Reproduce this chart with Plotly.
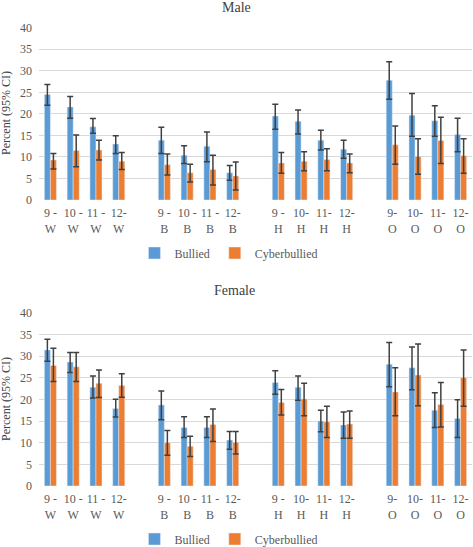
import plotly.graph_objects as go

tick_labels = ["9 -<br>W", "10 -<br>W", "11 -<br>W", "12-<br>W",
               "9 -<br>B", "10 -<br>B", "11 -<br>B", "12-<br>B",
               "9 -<br>H", "10-<br>H", "11-<br>H", "12-<br>H",
               "9-<br>O", "10-<br>O", "11-<br>O", "12-<br>O"]

male_bullied = [24.5, 21.6, 17.0, 13.0, 13.9, 10.4, 12.5, 6.3, 19.5, 18.3, 13.9, 11.8, 27.8, 19.7, 18.4, 15.2]
male_bullied_hi = [26.8, 24.0, 18.9, 14.9, 16.9, 12.6, 15.8, 8.0, 22.2, 20.9, 16.2, 13.9, 32.1, 24.7, 21.9, 19.0]
male_bullied_lo = [22.0, 19.0, 15.5, 10.8, 10.8, 8.5, 8.9, 4.6, 16.4, 15.3, 11.6, 9.7, 23.4, 14.8, 14.8, 11.2]
male_cyber = [9.3, 11.5, 11.6, 9.0, 8.2, 6.3, 7.1, 5.6, 8.6, 9.0, 9.4, 8.6, 12.8, 10.1, 13.8, 10.3]
male_cyber_hi = [10.8, 15.1, 13.9, 11.0, 10.7, 8.3, 10.4, 8.8, 11.0, 11.2, 11.9, 10.7, 17.2, 14.2, 19.2, 14.2]
male_cyber_lo = [7.2, 7.7, 9.3, 7.1, 5.8, 4.2, 3.5, 2.3, 6.2, 6.8, 6.8, 6.3, 8.3, 6.0, 8.5, 6.2]

female_bullied = [31.4, 28.6, 22.8, 17.9, 18.7, 13.5, 13.5, 10.6, 23.9, 22.8, 15.0, 14.1, 28.1, 27.3, 17.5, 15.6]
female_bullied_hi = [33.9, 30.8, 25.4, 20.0, 21.9, 16.0, 16.0, 12.6, 26.6, 25.4, 17.5, 17.1, 33.1, 32.1, 21.5, 19.9]
female_bullied_lo = [28.8, 26.2, 20.3, 15.9, 15.3, 11.2, 11.2, 8.5, 21.2, 19.8, 12.5, 11.0, 22.9, 22.2, 13.5, 11.2]
female_cyber = [27.8, 27.5, 23.7, 23.2, 10.0, 9.2, 14.2, 10.1, 19.3, 20.1, 14.8, 14.3, 21.7, 25.6, 18.8, 25.0]
female_cyber_hi = [31.8, 30.8, 26.8, 25.9, 12.8, 11.5, 17.8, 12.6, 22.3, 23.7, 18.4, 17.3, 27.3, 32.8, 23.9, 31.4]
female_cyber_lo = [24.1, 24.1, 20.4, 20.5, 7.1, 6.8, 10.3, 7.4, 16.4, 16.2, 11.2, 11.0, 16.2, 18.5, 13.6, 18.4]

FONT = "Liberation Serif, Times New Roman, serif"
BLUE = "#5B9BD5"
ORANGE = "#ED7D31"
ERR = "#404040"
GRID = "#D9D9D9"
TXT = "#595959"

# category slots with one empty slot between the four race groups
xpos = [i + i // 4 for i in range(len(tick_labels))]

fig = go.Figure()


def add(vals, hi, lo, name, color, xa, ya, legend):
    fig.add_trace(go.Bar(
        x=xpos, y=vals, name=name, marker_color=color, xaxis=xa, yaxis=ya,
        legend=legend,
        error_y=dict(type="data", symmetric=False,
                     array=[h - v for h, v in zip(hi, vals)],
                     arrayminus=[v - l for v, l in zip(vals, lo)],
                     color=ERR, thickness=1.5, width=3),
    ))


add(male_bullied, male_bullied_hi, male_bullied_lo, "Bullied", BLUE, "x", "y", "legend")
add(male_cyber, male_cyber_hi, male_cyber_lo, "Cyberbullied", ORANGE, "x", "y", "legend")
add(female_bullied, female_bullied_hi, female_bullied_lo, "Bullied", BLUE, "x2", "y2", "legend2")
add(female_cyber, female_cyber_hi, female_cyber_lo, "Cyberbullied", ORANGE, "x2", "y2", "legend2")

H, W = 547, 473
xdom = [39 / W, 472 / W]
ydom1 = [1 - 200 / H, 1 - 27.7 / H]
ydom2 = [1 - 486 / H, 1 - 312.7 / H]

xcommon = dict(range=[-0.5, 18.5], tickmode="array", tickvals=xpos, ticktext=tick_labels,
               showgrid=False, zeroline=False, showline=False, ticks="", automargin=False,
               ticklabelstandoff=4,
               tickfont=dict(family=FONT, size=12, color=TXT), domain=xdom, fixedrange=True)
ycommon = dict(range=[0, 40], dtick=5, showgrid=True, gridcolor=GRID, gridwidth=1,
               zeroline=False, showline=False, ticks="", ticklabelstandoff=6, automargin=False,
               tickfont=dict(family=FONT, size=12, color=TXT), fixedrange=True)

legcommon = dict(orientation="h", x=0.483, xanchor="center", yanchor="middle",
                 font=dict(family=FONT, size=12, color=TXT), itemwidth=30)

fig.update_layout(
    width=W, height=H,
    margin=dict(l=0, r=0, t=0, b=0, autoexpand=False),
    paper_bgcolor="white", plot_bgcolor="white",
    barmode="group", bargap=0.47, bargroupgap=0,
    font=dict(family=FONT, color=TXT),
    xaxis=dict(anchor="y", **xcommon),
    yaxis=dict(anchor="x", domain=ydom1, **ycommon),
    xaxis2=dict(anchor="y2", **xcommon),
    yaxis2=dict(anchor="x2", domain=ydom2, **ycommon),
    legend=dict(y=1 - 253 / H, **legcommon),
    legend2=dict(y=1 - 539 / H, **legcommon),
    annotations=[
        dict(text="Male", x=236 / W, y=1 - 8 / H, xref="paper", yref="paper",
             showarrow=False, font=dict(family=FONT, size=14, color="#404040"),
             xanchor="center", yanchor="middle"),
        dict(text="Female", x=234 / W, y=1 - 291 / H, xref="paper", yref="paper",
             showarrow=False, font=dict(family=FONT, size=14, color="#404040"),
             xanchor="center", yanchor="middle"),
        dict(text="Percent (95% CI)", x=6 / W, y=1 - 113 / H, xref="paper", yref="paper",
             showarrow=False, textangle=-90, font=dict(family=FONT, size=12, color="#404040"),
             xanchor="center", yanchor="middle"),
        dict(text="Percent (95% CI)", x=6 / W, y=1 - 399 / H, xref="paper", yref="paper",
             showarrow=False, textangle=-90, font=dict(family=FONT, size=12, color="#404040"),
             xanchor="center", yanchor="middle"),
    ],
)

fig.write_html("out.html", config={"displayModeBar": False},
               post_script="document.body.style.margin='0';document.body.style.overflow='hidden';")
